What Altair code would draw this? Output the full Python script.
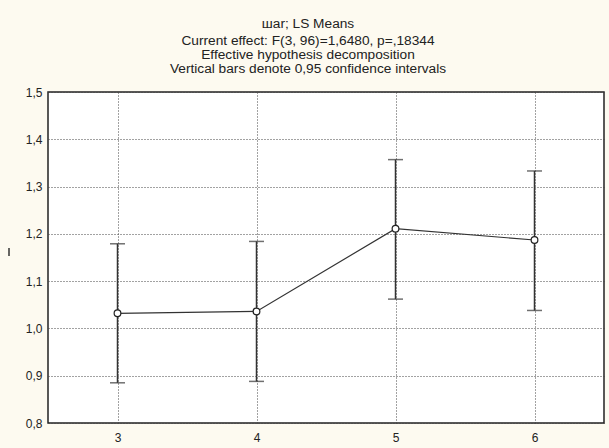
import altair as alt
import pandas as pd

levels = [3, 4, 5, 6]
means = [1.032, 1.036, 1.211, 1.187]
lower = [0.885, 0.888, 1.062, 1.038]
upper = [1.179, 1.184, 1.357, 1.333]
x_ticks = [3, 4, 5, 6]
y_ticks = [0.8, 0.9, 1.0, 1.1, 1.2, 1.3, 1.4, 1.5]
y_title = ["I"]

title_main = "шar; LS Means"
title_sub = [
    "Current effect: F(3, 96)=1,6480, p=,18344",
    "Effective hypothesis decomposition",
    "Vertical bars denote 0,95 confidence intervals",
]

df = pd.DataFrame({"level": levels, "mean": means, "lo": lower, "hi": upper})

FONT = "Liberation Sans"

x_axis = alt.Axis(
    values=x_ticks, format="d", title=None, ticks=False, domain=False,
    labelPadding=9, labelFontSize=12, labelFont=FONT, labelColor="#222",
    labelFontWeight="normal",
    grid=True, gridDash=[1, 2], gridColor="#444", gridWidth=1,
)
x_scale = alt.Scale(domain=[2.5, 6.5], nice=False, zero=False)
y_scale = alt.Scale(domain=[0.8, 1.5], nice=False, zero=False)
y_axis = alt.Axis(
    values=y_ticks, ticks=False, domain=False, title=None,
    labelExpr="replace(format(datum.value, '.1f'), '.', ',')",
    labelPadding=6, labelFontSize=12, labelFont=FONT, labelColor="#222",
    labelFontWeight="normal",
    grid=True, gridDash=[1, 2], gridColor="#444", gridWidth=1,
)

base = alt.Chart(df)
X = alt.X("level:Q", scale=x_scale, axis=x_axis)

bars = base.mark_rule(color="#333", strokeWidth=1.5).encode(
    x=X,
    y=alt.Y("lo:Q", scale=y_scale, axis=y_axis),
    y2="hi:Q",
)
cap_lo = base.mark_tick(orient="horizontal", size=15, thickness=1.5, color="#333").encode(
    x=X, y=alt.Y("lo:Q", scale=y_scale, axis=y_axis)
)
cap_hi = base.mark_tick(orient="horizontal", size=15, thickness=1.5, color="#333").encode(
    x=X, y=alt.Y("hi:Q", scale=y_scale, axis=y_axis)
)
line = base.mark_line(color="#333", strokeWidth=1.2).encode(
    x=X, y=alt.Y("mean:Q", scale=y_scale, axis=y_axis)
)
pts = base.mark_point(
    shape="circle", filled=True, fill="white", stroke="#222",
    strokeWidth=1.2, size=45, opacity=1,
).encode(x=X, y=alt.Y("mean:Q", scale=y_scale, axis=y_axis))

# stray vertical mark left of the axis (rendered as a tiny bar in the reference)
ytitle = alt.Chart(pd.DataFrame({"t": y_title})).mark_rule(
    color="#333", strokeWidth=1.5
).encode(x=alt.value(-39), y=alt.value(156), y2=alt.value(164))

chart = (
    alt.layer(bars, cap_lo, cap_hi, line, pts, ytitle)
    .properties(
        width=556,
        height=331,
        autosize=alt.AutoSizeParams(type="none"),
        padding={"left": 48, "top": 92, "right": 5, "bottom": 25},
        background="#FDFAF0",
        title=alt.TitleParams(
            text=title_main,
            subtitle=title_sub,
            anchor="middle",
            dx=-18,
            offset=10,
            font=FONT,
            fontSize=13.7,
            fontWeight="normal",
            color="#222",
            subtitleFont=FONT,
            subtitleFontSize=13.7,
            subtitleColor="#222",
            subtitleLineHeight=14,
            subtitlePadding=4,
        ),
    )
    .configure_view(fill="white", stroke="#222", strokeWidth=1.5)
)

chart.save("out.html", embed_options={"renderer": "svg", "actions": False})
